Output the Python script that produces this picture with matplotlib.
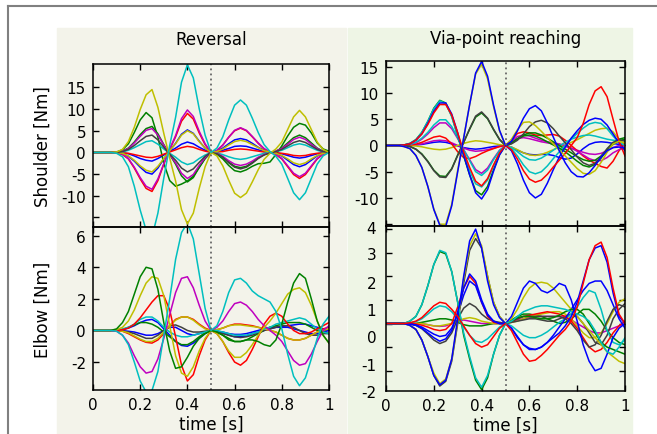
import matplotlib.pyplot as plt
import numpy as np
from matplotlib.patches import Rectangle
from matplotlib.lines import Line2D

# sample times (s), one value every 25 ms
t = np.linspace(0, 1, 41)

# --- Reversal, shoulder torque [Nm]
rs_yellow1 = [0, 0, 0, 0, 0.1, 0.7, 2.5, 5.8, 9.9, 13.3, 14.5, 10.4, 4.4, -1.3, -6.6, -13.2, -16.5, -14.0, -8.3, -3.3, 0,
              -0.8, -3.1, -6.4, -9.4, -10.4, -9.4, -6.8, -4.0, -1.6, -0.2, 0.8, 2.4, 5.3, 8.2, 9.7, 8.2, 5.3, 2.4, 0.7, 0]
rs_cyan1 = [0, 0, 0, 0, -0.2, -1.0, -3.3, -7.8, -13.3, -17.9, -19.5, -14.0, -5.9, 1.6, 8.1, 16.2, 20.2, 17.2, 10.1, 4.0, 0,
            1.0, 3.6, 7.5, 10.9, 12.1, 10.9, 7.9, 4.6, 1.8, 0.2, -0.9, -2.7, -6.0, -9.3, -10.9, -9.3, -6.0, -2.7, -0.8, 0]
rs_green1 = [0, 0, 0, 0, 0.1, 0.6, 2.0, 4.6, 7.5, 9.2, 8.0, 3.5, -2.5, -6.5, -7.8, -7.3, -6.6, -5.5, -3.5, -1.4, 0,
             -0.4, -1.5, -3.0, -4.2, -4.5, -4.0, -3.2, -2.6, -2.5, -2.2, -0.5, 1.5, 3.8, 5.8, 6.7, 6.3, 4.5, 2.2, 0.8, 0.3]
rs_green2 = [0, 0, 0, 0, 0.1, 0.3, 1.0, 2.4, 4.1, 5.5, 6.0, 4.3, 1.8, -0.5, -2.7, -5.4, -6.8, -5.8, -3.4, -1.4, 0,
             -0.3, -1.1, -2.2, -3.2, -3.5, -3.2, -2.3, -1.3, -0.5, -0.1, 0.3, 1.0, 2.2, 3.4, 4.0, 3.4, 2.2, 1.0, 0.3, 0]
rs_mag1 = [0, 0, 0, 0, 0.1, 0.3, 0.9, 2.2, 3.7, 5.1, 5.5, 4.0, 1.7, -0.5, -2.4, -4.8, -6.0, -5.1, -3.0, -1.2, 0,
           -0.2, -0.9, -1.9, -2.7, -3.0, -2.7, -2.0, -1.1, -0.5, -0.1, 0.3, 0.9, 1.9, 3.0, 3.5, 3.0, 1.9, 0.9, 0.2, 0]
rs_mag2 = [0, 0, 0, 0, -0.1, -0.4, -1.4, -3.4, -5.8, -7.8, -8.5, -6.1, -2.6, 0.8, 3.9, 7.8, 9.8, 8.3, 4.9, 2.0, 0,
           0.5, 1.7, 3.5, 5.1, 5.7, 5.1, 3.7, 2.2, 0.9, 0.1, -0.4, -1.4, -3.1, -4.8, -5.6, -4.8, -3.1, -1.4, -0.4, 0]
rs_red1 = [0, 0, 0, 0, -0.1, -0.5, -1.5, -3.6, -6.1, -8.3, -9.0, -6.5, -2.7, 0.7, 3.6, 7.2, 9.0, 7.7, 4.5, 1.8, 0,
           0.4, 1.7, 3.5, 5.0, 5.6, 5.0, 3.6, 2.1, 0.8, 0.1, -0.5, -1.5, -3.3, -5.1, -6.0, -5.1, -3.3, -1.5, -0.4, 0]
rs_red2 = [0, 0, 0, 0, 0, -0.1, -0.2, -0.5, -0.8, -1.1, -1.2, -0.9, -0.4, 0.1, 0.6, 1.1, 1.4, 1.2, 0.7, 0.3, 0,
           0.1, 0.2, 0.5, 0.7, 0.8, 0.7, 0.5, 0.3, 0.1, 0, -0.1, -0.2, -0.4, -0.7, -0.8, -0.7, -0.4, -0.2, -0.1, 0]
rs_blue1 = [0, 0, 0, 0, 0, -0.3, -0.9, -2.0, -3.4, -4.6, -5.0, -3.6, -1.5, 0.4, 2.1, 4.2, 5.2, 4.4, 2.6, 1.0, 0,
            0.3, 1.0, 2.0, 2.9, 3.2, 2.9, 2.1, 1.2, 0.5, 0.1, -0.3, -0.8, -1.8, -2.8, -3.3, -2.8, -1.8, -0.8, -0.2, 0]
rs_blue2 = [0, 0, 0, 0, 0, -0.1, -0.3, -0.8, -1.4, -1.8, -2.0, -1.4, -0.6, 0.2, 1.0, 1.9, 2.4, 2.0, 1.2, 0.5, 0,
            0.1, 0.5, 0.9, 1.4, 1.5, 1.4, 1.0, 0.6, 0.2, 0, -0.1, -0.3, -0.7, -1.1, -1.3, -1.1, -0.7, -0.3, -0.1, 0]
rs_yellow2 = [0, 0, 0, 0, 0, -0.2, -0.8, -1.8, -3.1, -4.1, -4.5, -3.2, -1.4, 0.4, 2.0, 4.0, 5.0, 4.3, 2.5, 1.0, 0,
              0.2, 0.8, 1.7, 2.5, 2.8, 2.5, 1.8, 1.1, 0.4, 0.1, -0.2, -0.7, -1.5, -2.4, -2.8, -2.4, -1.5, -0.7, -0.2, 0]
rs_gray = [0, 0, 0, 0, 0, 0.2, 0.7, 1.6, 2.7, 3.7, 4.0, 2.9, 1.2, -0.4, -1.8, -3.6, -4.5, -3.8, -2.3, -0.9, 0,
           -0.3, -1.1, -2.4, -3.4, -3.8, -3.4, -2.5, -1.4, -0.6, -0.1, 0.2, 0.7, 1.5, 2.3, 2.7, 2.3, 1.5, 0.7, 0.2, 0]
rs_cyan2 = [0, 0, 0, 0, 0, 0.1, 0.5, 1.1, 1.8, 2.5, 2.7, 1.9, 0.8, -0.2, -1.1, -2.2, -2.8, -2.4, -1.4, -0.6, 0,
            -0.1, -0.5, -1.0, -1.4, -1.6, -1.4, -1.0, -0.6, -0.2, 0, 0.2, 0.5, 1.1, 1.7, 2.0, 1.7, 1.1, 0.5, 0.1, 0]

# --- Reversal, elbow torque [Nm]
re_cyan1 = [0, 0, 0, 0, -0.05, -0.3, -0.9, -2.0, -3.2, -3.9, -3.8, -2.6, -0.3, 2.0, 4.5, 6.2, 6.8, 5.8, 3.6, 1.4, 0,
            0.3, 1.2, 2.4, 3.2, 3.3, 3.0, 2.5, 2.2, 2.0, 1.8, 1.2, 0.1, -1.5, -2.9, -3.5, -3.0, -1.8, -0.5, 0.4, 0.9]
re_green1 = [0, 0, 0, 0, 0.1, 0.5, 1.2, 2.3, 3.4, 4.0, 3.9, 2.6, 0.5, -1.3, -2.4, -2.3, -1.7, -1.0, -0.5, -0.2, 0,
             -0.1, -0.3, -0.6, -0.7, -0.7, -0.6, -0.6, -0.7, -0.9, -1.0, -0.6, 0.4, 1.8, 3.0, 3.6, 3.3, 2.0, 0.6, -0.3, -0.8]
re_yellow1 = [0, 0, 0, 0, 0.05, 0.2, 0.6, 1.3, 2.2, 3.0, 3.4, 3.3, 2.2, 0.3, -1.6, -2.7, -2.9, -2.3, -1.3, -0.5, 0,
              -0.2, -0.7, -1.3, -1.7, -1.7, -1.4, -0.9, -0.3, 0.2, 0.6, 1.1, 1.7, 2.3, 2.6, 2.7, 2.4, 1.6, 0.6, -0.3, -0.8]
re_red1 = [0, 0, 0, 0, 0, 0.05, 0.15, 0.4, 0.8, 1.3, 1.8, 2.2, 2.2, 1.3, -0.4, -2.2, -3.2, -2.8, -1.6, -0.6, 0,
           -0.2, -0.7, -1.4, -2.0, -2.2, -1.9, -1.2, -0.4, 0.4, 0.9, 1.1, 0.9, 0.4, 0.0, -0.2, -0.2, -0.1, 0.1, 0.3, 0.5]
re_mag1 = [0, 0, 0, 0, -0.05, -0.3, -0.8, -1.6, -2.3, -2.7, -2.6, -1.8, -0.5, 1.0, 2.4, 3.3, 3.4, 2.7, 1.6, 0.6, 0,
           0.2, 0.6, 1.2, 1.7, 1.8, 1.6, 1.2, 0.7, 0.3, 0.0, -0.3, -0.7, -1.3, -1.9, -2.2, -2.1, -1.5, -0.7, 0.0, 0.3]
re_cyan2 = [0, 0, 0, 0, 0, 0.1, 0.2, 0.4, 0.7, 0.85, 0.85, 0.6, 0.2, -0.1, -0.3, -0.4, -0.4, -0.3, -0.2, -0.1, 0,
            0, -0.1, -0.2, -0.3, -0.3, -0.3, -0.2, -0.1, 0.1, 0.2, 0.4, 0.5, 0.6, 0.7, 0.8, 0.7, 0.4, 0.1, -0.1, -0.2]
re_blue1 = [0, 0, 0, 0, 0, 0.05, 0.15, 0.3, 0.5, 0.65, 0.7, 0.5, 0.1, -0.3, -0.7, -0.95, -1.0, -0.8, -0.5, -0.2, 0,
            -0.05, -0.15, -0.3, -0.4, -0.4, -0.35, -0.2, -0.1, 0.0, 0.1, 0.2, 0.25, 0.3, 0.35, 0.4, 0.4, 0.3, 0.2, 0.1, 0.0]
re_blue2 = [0, 0, 0, 0, 0, -0.02, -0.05, -0.1, -0.2, -0.3, -0.3, -0.2, 0.0, 0.2, 0.2, 0.0, -0.2, -0.3, -0.2, -0.1, 0,
            -0.05, -0.1, -0.2, -0.25, -0.25, -0.2, -0.1, 0.0, 0.1, 0.2, 0.2, 0.2, 0.2, 0.1, 0.0, -0.1, -0.2, -0.2, -0.1, 0.0]
re_green2 = [0, 0, 0, 0, 0, 0.05, 0.2, 0.35, 0.5, 0.5, 0.4, 0.2, -0.1, -0.4, -0.7, -0.9, -0.9, -0.7, -0.4, -0.15, 0,
             -0.1, -0.3, -0.5, -0.7, -0.7, -0.6, -0.4, -0.2, 0.0, 0.2, 0.3, 0.4, 0.5, 0.5, 0.5, 0.4, 0.2, 0.0, -0.1, -0.2]
re_gray = [0, 0, 0, 0, 0, -0.03, -0.1, -0.2, -0.35, -0.5, -0.5, -0.3, 0.0, 0.3, 0.35, 0.2, 0.0, -0.1, -0.1, -0.05, 0,
           -0.1, -0.2, -0.3, -0.4, -0.45, -0.4, -0.3, -0.15, 0.0, 0.1, 0.2, 0.3, 0.3, 0.2, 0.0, -0.2, -0.3, -0.3, -0.2, -0.2]
re_red2 = [0, 0, 0, 0, 0, -0.05, -0.2, -0.4, -0.6, -0.75, -0.8, -0.6, -0.2, 0.3, 0.7, 0.85, 0.85, 0.7, 0.4, 0.15, 0,
           0.05, 0.15, 0.3, 0.4, 0.4, 0.35, 0.3, 0.2, 0.1, 0.0, -0.1, -0.3, -0.5, -0.6, -0.6, -0.5, -0.3, -0.1, 0.1, 0.2]
re_yellow2 = [0, 0, 0, 0, 0, -0.05, -0.15, -0.35, -0.55, -0.7, -0.7, -0.5, -0.1, 0.3, 0.65, 0.85, 0.85, 0.65, 0.35, 0.1, 0,
              0.05, 0.15, 0.3, 0.35, 0.35, 0.3, 0.25, 0.2, 0.1, 0.0, -0.1, -0.3, -0.5, -0.6, -0.6, -0.5, -0.3, -0.1, 0.0, 0.1]

# --- Via-point reaching, shoulder torque [Nm]
vs_yellow1 = [0, 0, 0, -0.2, -0.6, -1.9, -4.2, -7.8, -12.1, -15.0, -15.0, -11.2, -4.7, 1.5, 7.8, 13.6, 15.5, 12.7, 7.4, 2.8, 0,
              1.2, 3.0, 4.4, 4.5, 3.8, 2.7, 1.5, 0.3, -0.9, -2.0, -3.2, -4.4, -5.3, -5.5, -4.8, -3.2, -1.3, 0.3, 0.8, 0.5]
vs_blue1 = [0, 0, 0, -0.2, -0.6, -1.9, -4.2, -7.8, -12.2, -15.2, -15.4, -11.5, -5.0, 1.4, 7.8, 13.8, 16.0, 13.2, 7.7, 2.9, 0,
            0.8, 2.8, 5.2, 7.0, 7.6, 6.6, 4.3, 1.6, -1.0, -3.3, -5.0, -5.9, -6.0, -5.2, -3.8, -2.2, -1.0, -0.4, -0.3, -0.5]
vs_gray = [0, 0, 0, -0.1, -0.2, -0.7, -1.7, -3.1, -4.8, -6.0, -6.1, -4.5, -1.9, 0.6, 3.2, 5.6, 6.4, 5.2, 3.1, 1.2, 0,
           0.3, 1.0, 2.2, 3.6, 4.5, 4.8, 4.3, 3.2, 1.8, 0.5, -0.8, -2.2, -3.3, -3.8, -3.4, -2.1, -0.6, 0.6, 1.1, 0.8]
vs_green1 = [0, 0, 0, -0.1, -0.2, -0.7, -1.6, -3.0, -4.7, -5.8, -5.9, -4.4, -1.8, 0.6, 3.1, 5.4, 6.2, 5.1, 3.0, 1.1, 0,
             0.4, 1.2, 1.8, 2.0, 1.8, 1.3, 0.7, 0.1, -0.5, -1.2, -2.1, -3.0, -3.8, -4.1, -3.6, -2.4, -0.9, 0.4, 1.2, 1.5]
vs_green2 = [0, 0, 0, 0.1, 0.4, 1.1, 2.5, 4.6, 7.1, 8.6, 8.1, 5.6, 1.8, -2.0, -5.6, -8.6, -9.4, -7.8, -4.6, -1.7, 0,
             0.5, 1.3, 2.0, 2.4, 2.4, 2.0, 1.4, 0.7, 0.0, -0.7, -1.4, -2.1, -2.7, -3.0, -2.8, -2.0, -0.9, 0.2, 0.9, 1.2]
vs_blue2 = [0, 0, 0, 0.1, 0.3, 1.0, 2.2, 4.2, 6.5, 8.1, 8.1, 6.0, 2.4, -1.8, -5.6, -9.0, -10.2, -8.4, -4.9, -1.8, 0,
            -1.0, -3.5, -6.6, -9.0, -10.0, -9.3, -7.2, -4.6, -2.2, -0.3, 1.4, 2.8, 4.0, 4.8, 5.2, 5.0, 3.9, 2.2, 0.5, -1.0]
vs_cyan1 = [0, 0, 0, 0.1, 0.4, 1.1, 2.5, 4.6, 7.0, 8.5, 8.0, 5.5, 1.8, -1.7, -4.8, -7.3, -7.9, -6.6, -3.9, -1.4, 0,
            -0.6, -2.0, -3.7, -5.0, -5.4, -5.0, -3.9, -2.5, -1.2, 0.0, 1.2, 2.3, 3.3, 4.1, 4.4, 4.2, 3.2, 1.8, 0.6, 0.0]
vs_cyan2 = [0, 0, 0, 0.05, 0.2, 0.6, 1.4, 2.5, 3.9, 4.9, 4.9, 3.6, 1.5, -0.8, -2.9, -5.0, -5.7, -4.7, -2.7, -1.0, 0,
            -0.4, -1.2, -2.1, -2.7, -2.8, -2.4, -1.7, -0.9, -0.1, 0.6, 1.2, 1.6, 1.9, 2.0, 1.8, 1.5, 1.2, 1.0, 0.9, 1.0]
vs_mag1 = [0, 0, 0, 0.05, 0.2, 0.5, 1.2, 2.2, 3.4, 4.3, 4.3, 3.2, 1.3, -0.8, -2.7, -4.6, -5.3, -4.3, -2.5, -0.9, 0,
           0.8, 1.7, 2.0, 1.8, 1.4, 1.0, 0.7, 0.5, 0.3, 0.0, -0.5, -1.1, -1.8, -2.5, -2.9, -2.9, -2.3, -1.4, -0.8, -0.5]
vs_red1 = [0, 0, 0, 0.1, 0.3, 1.0, 2.2, 4.0, 6.2, 7.8, 7.8, 5.8, 2.4, -1.2, -4.2, -6.8, -7.7, -6.3, -3.7, -1.4, 0,
           -0.8, -2.6, -4.8, -6.4, -7.0, -6.6, -5.5, -4.1, -2.8, -1.5, 0.0, 1.5, 4.2, 7.8, 10.4, 11.2, 9.3, 5.0, 0.8, -2.0]
vs_red2 = [0, 0, 0, 0.02, 0.1, 0.25, 0.6, 1.1, 1.6, 1.8, 1.4, 0.3, -1.2, -2.3, -2.5, -2.1, -1.5, -1.0, -0.6, -0.2, 0,
           1.0, 2.3, 2.6, 2.4, 2.0, 1.9, 2.0, 2.1, 1.8, 1.0, 0.0, -1.0, -2.0, -2.8, -3.4, -4.0, -4.3, -3.0, -1.0, 0.5]
vs_mag2 = [0, 0, 0, 0, 0.05, 0.15, 0.3, 0.6, 0.9, 1.0, 0.9, 0.5, 0.0, -0.5, -0.9, -1.1, -1.0, -0.8, -0.5, -0.2, 0,
           0.6, 1.3, 1.5, 1.3, 1.0, 0.7, 0.5, 0.3, 0.1, -0.2, -0.5, -0.9, -1.3, -1.6, -1.7, -1.5, -1.0, -0.4, 0.0, -0.3]
vs_yellow2 = [0, 0, 0, 0, -0.05, -0.1, -0.25, -0.5, -0.7, -0.8, -0.7, -0.4, 0.0, 0.4, 0.7, 0.9, 0.8, 0.6, 0.4, 0.15, 0,
              -0.3, -0.8, -1.4, -1.8, -1.9, -1.7, -1.3, -0.8, -0.3, 0.1, 0.6, 1.1, 1.7, 2.3, 2.9, 3.2, 3.3, 2.6, 1.2, 0.0]
vs_blue3 = [0, 0, 0, 0, 0.02, 0.1, 0.2, 0.4, 0.6, 0.7, 0.6, 0.3, -0.1, -0.4, -0.6, -0.7, -0.6, -0.4, -0.2, -0.1, 0,
            -0.3, -0.9, -1.4, -1.7, -1.8, -1.7, -1.7, -1.9, -2.3, -2.6, -2.4, -1.6, -0.6, 0.2, 0.6, 0.7, 0.6, 0.4, 0.2, 0.0]

# --- Via-point reaching, elbow torque [Nm]
ve_green1 = [0, 0, 0, 0, 0.1, 0.3, 0.8, 1.6, 2.5, 3.05, 2.95, 2.2, 0.9, -0.5, -1.5, -2.4, -2.8, -2.3, -1.3, -0.5, 0,
             0.1, 0.25, 0.3, 0.3, 0.25, 0.2, 0.2, 0.25, 0.35, 0.5, 0.6, 0.6, 0.4, 0.0, -0.4, -0.8, -1.0, -1.1, -1.2, -1.3]
ve_cyan1 = [0, 0, 0, 0, 0.1, 0.3, 0.8, 1.6, 2.5, 3.1, 3.0, 2.2, 0.9, -0.4, -1.4, -2.3, -2.7, -2.2, -1.3, -0.5, 0,
            0.1, 0.3, 0.5, 0.6, 0.7, 0.75, 0.75, 0.7, 0.65, 0.6, 0.5, 0.4, 0.3, 0.1, -0.3, -0.8, -1.2, -1.3, -1.0, -0.6]
ve_blue1 = [0, 0, 0, 0, -0.08, -0.25, -0.7, -1.4, -2.2, -2.6, -2.4, -1.5, 0.2, 2.0, 3.5, 4.0, 3.2, 1.8, 0.8, 0.25, 0,
            0.3, 0.9, 1.5, 1.8, 1.7, 1.4, 1.3, 1.45, 1.7, 1.6, 1.0, 0.1, -0.9, -1.6, -2.0, -1.9, -1.3, -0.6, -0.2, 0.0]
ve_yellow1 = [0, 0, 0, 0, -0.08, -0.25, -0.7, -1.4, -2.1, -2.55, -2.35, -1.5, 0.1, 1.9, 3.3, 3.8, 3.3, 2.0, 0.9, 0.3, 0,
              0.2, 0.6, 1.1, 1.5, 1.7, 1.75, 1.7, 1.5, 1.2, 0.9, 0.6, 0.3, 0.0, -0.3, -0.6, -0.9, -1.2, -1.4, -1.6, -1.7]
ve_gray1 = [0, 0, 0, 0, -0.08, -0.25, -0.7, -1.4, -2.2, -2.65, -2.45, -1.6, 0.0, 1.7, 3.1, 3.6, 3.2, 2.0, 0.9, 0.3, 0,
            0.1, 0.2, 0.3, 0.3, 0.3, 0.3, 0.3, 0.3, 0.3, 0.2, 0.0, -0.3, -0.7, -1.0, -0.9, -0.5, 0.1, 0.6, 0.8, 0.7]
ve_blue2 = [0, 0, 0, 0, -0.02, -0.07, -0.2, -0.4, -0.6, -0.75, -0.65, -0.3, 0.5, 1.5, 2.1, 1.8, 1.0, 0.4, 0.1, 0.0, 0,
            -0.2, -0.6, -0.9, -1.1, -1.1, -1.0, -0.8, -0.6, -0.4, -0.1, 0.3, 0.9, 1.8, 2.7, 3.2, 3.3, 2.6, 1.3, 0.3, 0.0]
ve_red1 = [0, 0, 0, 0, 0.03, 0.1, 0.25, 0.5, 0.75, 0.9, 0.85, 0.6, 0.3, -0.1, -0.5, -0.85, -1.0, -0.9, -0.55, -0.2, 0,
           -0.3, -0.8, -1.3, -1.6, -1.55, -1.35, -1.1, -0.8, -0.5, -0.25, 0.1, 0.7, 1.7, 2.7, 3.3, 3.45, 2.8, 1.5, 0.4, 0.0]
ve_red2 = [0, 0, 0, 0, 0, -0.02, -0.07, -0.15, -0.25, -0.3, -0.25, 0.0, 0.7, 1.5, 2.0, 1.7, 0.9, 0.3, 0.05, 0.0, 0,
           0.1, 0.2, 0.3, 0.35, 0.4, 0.45, 0.5, 0.45, 0.4, 0.3, 0.1, -0.2, -0.6, -1.0, -1.2, -1.1, -0.8, -0.4, -0.1, 0.1]
ve_gray2 = [0, 0, 0, 0, -0.02, -0.08, -0.22, -0.45, -0.7, -0.85, -0.75, -0.4, 0.2, 0.65, 0.85, 0.7, 0.4, 0.2, 0.1, 0.05, 0,
            0.05, 0.1, 0.15, 0.2, 0.2, 0.15, 0.1, 0.1, 0.2, 0.3, 0.4, 0.3, 0.0, -0.4, -0.8, -0.9, -0.5, 0.2, 0.6, 0.85]
ve_cyan2 = [0, 0, 0, 0, 0.02, 0.08, 0.2, 0.4, 0.62, 0.75, 0.7, 0.5, 0.2, -0.15, -0.5, -0.75, -0.8, -0.65, -0.4, -0.15, 0,
            -0.1, -0.3, -0.5, -0.6, -0.6, -0.5, -0.35, -0.15, 0.05, 0.2, 0.4, 0.7, 1.1, 1.4, 1.3, 0.6, -0.3, -0.8, -0.9, -0.7]
ve_mag = [0, 0, 0, 0, 0, 0, 0, -0.05, -0.1, -0.12, -0.1, 0.0, 0.1, 0.15, 0.1, 0.05, 0.0, 0.0, 0.0, 0.0, 0,
          0.05, 0.15, 0.2, 0.25, 0.3, 0.3, 0.3, 0.3, 0.3, 0.25, 0.15, 0.0, -0.15, -0.3, -0.4, -0.4, -0.3, -0.2, -0.1, 0.0]
ve_green2 = [0, 0, 0, 0, 0, 0, 0.05, 0.1, 0.15, 0.2, 0.2, 0.15, 0.05, -0.05, -0.1, -0.1, -0.1, -0.05, 0, 0, 0,
             0.15, 0.3, 0.4, 0.4, 0.35, 0.3, 0.2, 0.1, 0.0, 0.05, 0.2, 0.4, 0.6, 0.6, 0.4, 0.1, -0.3, -0.6, -0.8, -0.9]
ve_yellow2 = [0, 0, 0, 0, 0, 0, 0, -0.05, -0.1, -0.1, -0.05, 0.0, 0.1, 0.2, 0.25, 0.2, 0.1, 0.05, 0, 0, 0,
              0.05, 0.1, 0.2, 0.3, 0.35, 0.4, 0.45, 0.5, 0.5, 0.4, 0.2, -0.1, -0.4, -0.6, -0.6, -0.4, 0.0, 0.5, 0.9, 1.05]
ve_blue3 = [0, 0, 0, 0, -0.02, -0.06, -0.15, -0.3, -0.45, -0.55, -0.5, -0.2, 0.4, 1.2, 1.8, 1.6, 0.9, 0.35, 0.1, 0.0, 0,
            -0.2, -0.55, -0.9, -1.05, -1.1, -1.0, -0.8, -0.5, -0.15, 0.2, 0.6, 1.0, 1.4, 1.7, 1.8, 1.8, 1.4, 0.8, 0.2, -0.2]

B, G, R, C, M, Y, K = '#0000ff', '#008000', '#ff0000', '#00bfbf', '#bf00bf', '#bfbf00', '#404040'

panels = [
    [(rs_blue1, B), (rs_blue2, B), (rs_green1, G), (rs_green2, G), (rs_red1, R), (rs_red2, R), (rs_cyan2, C),
     (rs_mag1, M), (rs_mag2, M), (rs_yellow2, Y), (rs_gray, K), (rs_yellow1, Y), (rs_cyan1, C)],
    [(vs_blue3, B), (vs_mag2, M), (vs_yellow2, Y), (vs_red2, R), (vs_mag1, M), (vs_cyan2, C), (vs_green2, G),
     (vs_cyan1, C), (vs_green1, G), (vs_gray, K), (vs_blue2, B), (vs_red1, R), (vs_yellow1, Y), (vs_blue1, B)],
    [(re_blue1, B), (re_blue2, B), (re_green2, G), (re_gray, K), (re_red2, R), (re_yellow2, Y), (re_cyan2, C),
     (re_red1, R), (re_mag1, M), (re_yellow1, Y), (re_green1, G), (re_cyan1, C)],
    [(ve_mag, M), (ve_green2, G), (ve_yellow2, Y), (ve_gray2, K), (ve_cyan2, C), (ve_red2, R), (ve_blue3, B),
     (ve_gray1, K), (ve_yellow1, Y), (ve_blue1, B), (ve_green1, G), (ve_cyan1, C), (ve_blue2, B), (ve_red1, R)],
]
ylims = [(-17.2, 20.4), (-15.4, 16.1), (-3.77, 6.55), (-2.86, 4.12)]

W, H = 657, 435
fig = plt.figure(figsize=(W / 100, H / 100), dpi=100)

# grey frame and the two shaded column panels
fig.add_artist(Line2D([8 / W, 1], [1 - 7 / H] * 2, color='#808080', lw=1.5))
fig.add_artist(Line2D([8 / W] * 2, [0, 1 - 7 / H], color='#808080', lw=1.5))
fig.add_artist(Rectangle((57 / W, 0), 289 / W, 1 - 29 / H, color='#f3f3ea', zorder=0))
fig.add_artist(Rectangle((348 / W, 0), 284 / W, 1 - 29 / H, color='#eef5e5', zorder=0))

rects = [
    [93 / W, 1 - 228 / H, 236 / W, 163 / H],
    [386 / W, 1 - 227.3 / H, 239 / W, 165.3 / H],
    [93 / W, 1 - 391 / H, 236 / W, 163 / H],
    [386 / W, 1 - 392 / H, 239 / W, 164.7 / H],
]

axes = []
for i, rect in enumerate(rects):
    ax = fig.add_axes(rect)
    ax.set_facecolor('none')
    for vals, col in panels[i]:
        ax.plot(t, vals, color=col, lw=1.1)
    ax.axvline(0.5, color='#666666', lw=1.3, ls=(0, (1, 1.8)))
    ax.set_xlim(0, 1)
    ax.set_ylim(*ylims[i])
    ax.set_xticks([0, 0.2, 0.4, 0.6, 0.8, 1.0])
    ax.tick_params(direction='in', top=True, right=True, length=4, width=1,
                   labelsize=11, pad=5)
    for s in ax.spines.values():
        s.set_linewidth(1.1)
    if i < 2:
        ax.set_xticklabels([])
    else:
        ax.set_xticklabels(['0', '0.2', '0.4', '0.6', '0.8', '1'])
        ax.set_xlabel('time [s]', fontsize=12)
        ax.xaxis.set_label_coords(0.5, -0.15)
    axes.append(ax)

ax_rs, ax_vs, ax_re, ax_ve = axes

ax_rs.set_yticks([-15, -10, -5, 0, 5, 10, 15])
ax_rs.set_yticklabels(['', '-10', '-5', '0', '5', '10', '15'])
ax_vs.set_yticks([-15, -10, -5, 0, 5, 10, 15])
ax_vs.set_yticklabels(['', '-10', '-5', '0', '5', '10', '15'])
ax_re.set_yticks([-2, 0, 2, 4, 6])
ax_re.set_yticklabels(['-2', '0', '2', '4', '6'])

# elbow via-point: labels sit evenly over the axis, marks at whole numbers
ax_ve.set_yticks([-2, -1, 0, 1, 2, 3, 4])
ax_ve.set_yticklabels([])
ax_ve.set_yticks([4.07, 2.97, 1.75, 0.61, -0.52, -1.73, -2.86], minor=True)
ax_ve.set_yticklabels(['4', '3', '2', '1', '0', '-1', '-2'], minor=True)
ax_ve.tick_params(axis='y', which='minor', length=0, labelsize=11, pad=7)

ax_rs.set_ylabel('Shoulder [Nm]', fontsize=12)
ax_rs.yaxis.set_label_coords(-0.174, 0.5)
ax_re.set_ylabel('Elbow [Nm]', fontsize=12)
ax_re.yaxis.set_label_coords(-0.174, 0.5)

fig.text(211 / W, 1 - 45 / H, 'Reversal', ha='center', va='baseline', fontsize=12)
fig.text(505.5 / W, 1 - 44 / H, 'Via-point reaching', ha='center', va='baseline', fontsize=12)

fig.savefig('out.png', dpi=100)
